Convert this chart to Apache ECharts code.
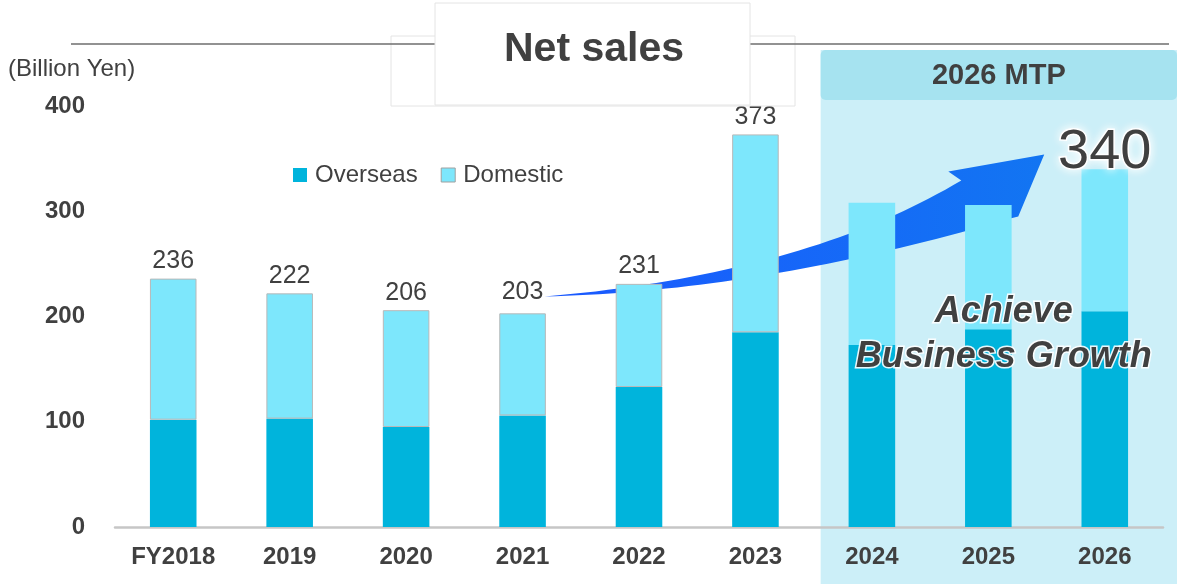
<!DOCTYPE html>
<html>
<head>
<meta charset="utf-8">
<script src="https://cdn.jsdelivr.net/npm/echarts@6/dist/echarts.min.js"></script>
<style>
  html, body { margin: 0; padding: 0; background: #ffffff; }
  #c { width: 1178px; height: 584px; }
</style>
</head>
<body>
<div id="c"></div>
<script>
// Net sales by fiscal year, billion yen
const years = ['FY2018', '2019', '2020', '2021', '2022', '2023', '2024', '2025', '2026'];
const totals = [236, 222, 206, 203, 231, 373, 308, 306, 340];
const overseas = [102, 103, 95, 106, 133, 185, 173, 188, 205];
const yTicks = [0, 100, 200, 300, 400];
const planFirstIndex = 6;   // 2024: first year of the medium-term plan
const planTarget = 340;     // FY2026 goal

const domestic = totals.map((t, i) => t - overseas[i]);

const FONT = "'Liberation Sans', Arial, sans-serif";
const INK = '#404040';
const C_OVERSEAS = '#00b4dc';
const C_DOMESTIC = '#7de7fc';

const domesticData = domestic.map((v, i) => {
  const item = { value: v };
  if (i < planFirstIndex) {
    item.itemStyle = { borderColor: '#b8b8b8', borderWidth: 1 };
    item.label = { show: true, distance: i === 3 ? 9 : 5 };
  } else if (totals[i] === planTarget && i === years.length - 1) {
    item.label = {
      show: true, fontSize: 56, distance: -11, color: INK,
      textBorderColor: '#ffffff', textBorderWidth: 3,
      textShadowColor: '#ffffff', textShadowBlur: 10
    };
  } else {
    item.label = { show: false };
  }
  return item;
});

const option = {
  animation: false,
  backgroundColor: '#ffffff',
  grid: { left: 115, right: 15, top: 106, bottom: 57 },
  legend: {
    left: 288, top: 158,
    itemWidth: 14, itemHeight: 14, itemGap: 23,
    icon: 'rect',
    textStyle: { fontFamily: FONT, fontSize: 24, color: INK, padding: [0, 0, 0, 3] },
    data: [
      { name: 'Overseas' },
      { name: 'Domestic', itemStyle: { borderColor: '#a0a0a0', borderWidth: 1 } }
    ]
  },
  xAxis: {
    type: 'category',
    data: years,
    axisLine: { show: true, lineStyle: { color: '#c6c6c6', width: 2.5 } },
    axisTick: { show: false },
    axisLabel: { fontFamily: FONT, fontSize: 24, fontWeight: 'bold', color: INK, margin: 18 }
  },
  yAxis: {
    type: 'value',
    min: yTicks[0],
    max: yTicks[yTicks.length - 1],
    interval: yTicks[1] - yTicks[0],
    axisLine: { show: false },
    axisTick: { show: false },
    splitLine: { show: false },
    axisLabel: { fontFamily: FONT, fontSize: 24, fontWeight: 'bold', color: INK, margin: 30 }
  },
  series: [
    {
      name: 'Overseas', type: 'bar', stack: 'sales', barWidth: '40%', z: 2,
      itemStyle: { color: C_OVERSEAS },
      data: overseas
    },
    {
      name: 'Domestic', type: 'bar', stack: 'sales', barWidth: '40%', z: 2,
      itemStyle: { color: C_DOMESTIC },
      label: {
        show: true, position: 'top', fontFamily: FONT, fontSize: 25, color: INK,
        formatter: p => String(totals[p.dataIndex])
      },
      data: domesticData
    }
  ]
};

const chart = echarts.init(document.getElementById('c'), null, { renderer: 'canvas' });
chart.setOption(option);

// Decorations placed from the axes' own pixel mapping
const px = (i, v) => chart.convertToPixel({ xAxisIndex: 0, yAxisIndex: 0 }, [i, v]);
const band = px(1, 0)[0] - px(0, 0)[0];
const W = chart.getWidth();
const H = chart.getHeight();
const panelLeft = px(planFirstIndex, 0)[0] - 0.44 * band;
const panelWidth = W - panelLeft - 1;
const panelMid = panelLeft + panelWidth / 2;

// growth arrow: from just right of the FY2021 label to beside the FY2026 goal
const aStart = px(3, 219); aStart[0] += 0.19 * band;
const aEnd = px(8, 354);  aEnd[0] -= 0.52 * band;
const adx = aEnd[0] - aStart[0], ady = aEnd[1] - aStart[1];
const ap = (u, v) => [aStart[0] + u * adx, aStart[1] + v * ady];
function quad(p0, c, p1, steps) {
  const out = [];
  for (let k = 1; k <= steps; k++) {
    const t = k / steps, s = 1 - t;
    out.push([s * s * p0[0] + 2 * s * t * c[0] + t * t * p1[0],
              s * s * p0[1] + 2 * s * t * c[1] + t * t * p1[1]]);
  }
  return out;
}
const tail = ap(0, 0);
const lowerEnd = ap(0.932, 0.549);
const notch = ap(0.834, 0.817);
const arrowPoints = [tail]
  .concat(quad(tail, ap(0.432, 0.035), lowerEnd, 40))
  .concat([ap(0.948, 0.563), ap(1, 1), ap(0.808, 0.880), notch])
  .concat(quad(notch, ap(0.519, 0.155), tail, 40));

const glowText = (text, x, y, size, style) => ({
  type: 'text', x, y, z: 100,
  style: {
    text, font: (style || '') + ' ' + size + 'px ' + FONT,
    fill: INK, align: 'center', verticalAlign: 'middle',
    stroke: 'rgba(255,255,255,0.9)', lineWidth: 3,
    shadowColor: '#ffffff', shadowBlur: 10
  }
});

chart.setOption({
  graphic: [
    // plan period panel
    { type: 'rect', z: 0, shape: { x: panelLeft, y: 50, width: panelWidth, height: H - 50 },
      style: { fill: '#cceff8' } },
    { type: 'rect', z: 0.5, shape: { x: panelLeft, y: 50, width: panelWidth, height: 50, r: 5 },
      style: { fill: '#a6e3f0' } },
    { type: 'text', z: 100, x: panelMid, y: 76,
      style: { text: '2026 MTP', font: 'bold 29px ' + FONT, fill: INK, align: 'center', verticalAlign: 'middle' } },

    // title plates and rule
    { type: 'rect', z: 3, shape: { x: 391, y: 36, width: 404, height: 70 },
      style: { fill: '#ffffff', stroke: '#e4e4e4', lineWidth: 1 } },
    { type: 'line', z: 4, shape: { x1: 71, y1: 44, x2: 1169, y2: 44 },
      style: { stroke: '#6e6e6e', lineWidth: 1.5 } },
    { type: 'rect', z: 5, shape: { x: 435, y: 3, width: 315, height: 102 },
      style: { fill: '#ffffff', stroke: '#e4e4e4', lineWidth: 1 } },
    { type: 'text', z: 6, x: 594, y: 50,
      style: { text: 'Net sales', font: 'bold 41px ' + FONT, fill: INK, align: 'center', verticalAlign: 'middle' } },

    // unit
    { type: 'text', z: 6, x: 8, y: 69,
      style: { text: '(Billion Yen)', font: '24px ' + FONT, fill: INK, align: 'left', verticalAlign: 'middle' } },

    // arrow
    { type: 'polygon', z: 1, shape: { points: arrowPoints },
      style: {
        fill: { type: 'linear', x: 0, y: 0, x2: 1, y2: 0,
          colorStops: [{ offset: 0, color: '#1a58ff' }, { offset: 1, color: '#1275f2' }] }
      } },

    // slogan
    glowText('Achieve', panelMid + 5, 312, 36, 'italic bold'),
    glowText('Business Growth', panelMid + 5, 357, 36, 'italic bold')
  ]
});
</script>
</body>
</html>
